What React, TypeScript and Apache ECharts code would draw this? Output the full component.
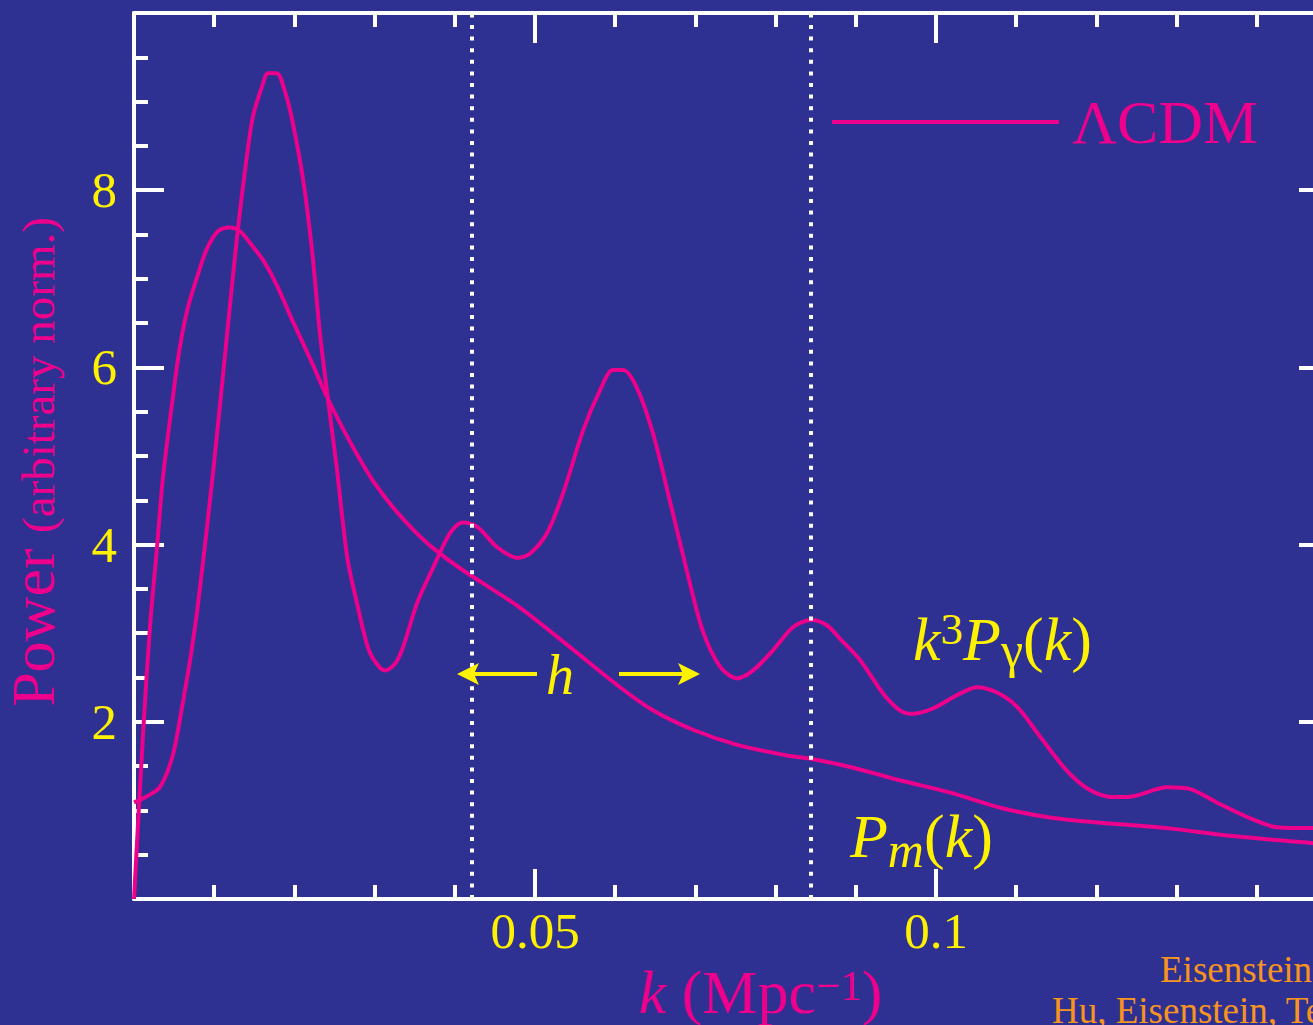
import React, { useEffect, useRef } from 'react';
import * as echarts from 'echarts';

const BG = '#2E3192';
const MAGENTA = '#EC008C';
const YELLOW = '#FFF200';
const ORANGE = '#F7941D';
const WHITE = '#FFFFFF';
const SERIF = '"Liberation Serif", "Times New Roman", serif';

// Tick labels
const xTickLabels = ['0.05', '0.1'];
const yTickLabels = ['2', '4', '6', '8'];

// Legend / series name
const legendName = 'ΛCDM';

// Matter power spectrum P_m(k)  [k (Mpc^-1), power]
const matterPower: [number, number][] = [
  [0, 0], [0.0011, 1.82], [0.002, 3.08], [0.0029, 4.0], [0.0036, 4.75], [0.0047, 5.56],
  [0.0057, 6.22], [0.0067, 6.67], [0.0079, 7.03], [0.0091, 7.34], [0.0105, 7.54], [0.012, 7.58],
  [0.0132, 7.54], [0.0145, 7.4], [0.0161, 7.21], [0.0178, 6.93], [0.0198, 6.52], [0.022, 6.09],
  [0.0241, 5.66], [0.0261, 5.3], [0.0278, 5.02], [0.0298, 4.72], [0.0323, 4.42], [0.0348, 4.17],
  [0.0373, 3.96], [0.0407, 3.73], [0.0481, 3.29], [0.0544, 2.84], [0.0606, 2.39],
  [0.0647, 2.13], [0.0697, 1.91], [0.0752, 1.74], [0.0814, 1.62], [0.0845, 1.58], [0.0893, 1.49],
  [0.0955, 1.34], [0.1018, 1.2], [0.108, 1.03], [0.1142, 0.92], [0.1205, 0.86], [0.1288, 0.8],
  [0.137, 0.71], [0.147, 0.63], [0.15, 0.6],
];

// Photon spectrum k^3 P_gamma(k)
const photonPower: [number, number][] = [
  [0, 1.09], [0.001, 1.13], [0.0024, 1.2], [0.0032, 1.26], [0.0041, 1.42], [0.005, 1.68],
  [0.006, 2.17], [0.007, 2.7], [0.008, 3.34], [0.0099, 4.85], [0.0116, 6.37], [0.0128, 7.43],
  [0.0138, 8.19], [0.0148, 8.82], [0.016, 9.18], [0.0167, 9.32], [0.0178, 9.32], [0.0188, 9.12],
  [0.0198, 8.76], [0.0211, 8.11], [0.0222, 7.32], [0.0232, 6.37], [0.0243, 5.56], [0.0253, 4.85],
  [0.0266, 3.85], [0.0278, 3.34], [0.0292, 2.83], [0.0303, 2.65], [0.0313, 2.58], [0.0325, 2.65],
  [0.0335, 2.83], [0.0353, 3.34], [0.0373, 3.74], [0.0394, 4.13], [0.041, 4.25], [0.0428, 4.2],
  [0.0453, 3.97], [0.0478, 3.85], [0.0494, 3.9], [0.0515, 4.13], [0.0535, 4.58], [0.056, 5.29],
  [0.0581, 5.74], [0.0597, 5.97], [0.061, 5.97], [0.0627, 5.77], [0.0647, 5.26], [0.0668, 4.5],
  [0.069, 3.68], [0.0709, 3.03], [0.0731, 2.62], [0.0752, 2.49], [0.0772, 2.58], [0.0797, 2.81],
  [0.0822, 3.07], [0.0845, 3.15], [0.0864, 3.09], [0.088, 2.94], [0.0905, 2.7], [0.0934, 2.32],
  [0.0955, 2.13], [0.0971, 2.09], [0.0996, 2.15], [0.1026, 2.3], [0.1051, 2.39], [0.1076, 2.33],
  [0.1101, 2.17], [0.113, 1.83], [0.1163, 1.45], [0.1192, 1.23], [0.1221, 1.15], [0.1246, 1.16],
  [0.1288, 1.26], [0.1317, 1.24], [0.135, 1.09], [0.1392, 0.91], [0.1425, 0.81], [0.147, 0.8],
  [0.15, 0.8],
];

// Sound-horizon markers (dotted verticals)
const horizonMarks = [0.0421, 0.0844];

const footnotes = ['Eisenstein, Hu & Tegmark (1998)', 'Hu, Eisenstein, Tegmark & White (1999)'];

function tok(size: number, color: string, extra: Record<string, any> = {}) {
  return { fontFamily: SERIF, fontSize: size, color, fill: color, lineHeight: extra.lineHeight ?? size, ...extra };
}

export default function App() {
  const ref = useRef<HTMLDivElement>(null);
  useEffect(() => {
    if (!ref.current) return;
    const chart = echarts.init(ref.current, undefined, { renderer: 'svg' });

    const annoRich = {
      i: tok(62, YELLOW, { fontStyle: 'italic' }),
      n: tok(62, YELLOW),
      sup: tok(45, YELLOW, { lineHeight: 62, padding: [0, 0, 20, 0] }),
      subg: tok(50, YELLOW, { lineHeight: 62, padding: [22, 0, 0, 0] }),
      subm: tok(50, YELLOW, { fontStyle: 'italic', lineHeight: 62, padding: [28, 0, 0, 0] }),
    };

    const axisCommonX = {
      type: 'value',
      min: 0,
      max: 0.15,
      interval: 0.05,
      axisLine: { show: true, onZero: false, lineStyle: { color: WHITE, width: 4 } },
      axisTick: { show: true, inside: true, length: 30, lineStyle: { color: WHITE, width: 4 } },
      minorTick: { show: true, splitNumber: 5, length: 14, lineStyle: { color: WHITE, width: 4 } },
      splitLine: { show: false },
      minorSplitLine: { show: false },
    };
    const axisCommonY = {
      type: 'value',
      min: 0,
      max: 10,
      interval: 2,
      axisLine: { show: true, onZero: false, lineStyle: { color: WHITE, width: 4 } },
      axisTick: { show: true, inside: true, length: 30, lineStyle: { color: WHITE, width: 4 } },
      minorTick: { show: true, splitNumber: 4, length: 14, lineStyle: { color: WHITE, width: 4 } },
      splitLine: { show: false },
      minorSplitLine: { show: false },
    };

    const option = {
      animation: false,
      backgroundColor: BG,
      grid: { left: 134, top: 13, width: 1203, height: 886, containLabel: false, outerBoundsMode: 'none' },
      legend: {
        left: 832,
        top: 91,
        padding: 0,
        icon: 'rect',
        itemWidth: 227,
        itemHeight: 4,
        selectedMode: false,
        data: [legendName],
        textStyle: { color: MAGENTA, fontSize: 62, fontFamily: SERIF, padding: [0, 0, 14, 8] },
      },
      xAxis: [
        {
          ...axisCommonX,
          position: 'bottom',
          axisLabel: {
            show: true,
            margin: 6,
            color: YELLOW,
            fontSize: 51,
            fontFamily: SERIF,
            formatter: (v: number) => {
              const s = String(Math.round(v * 100) / 100);
              return xTickLabels.includes(s) ? s : '';
            },
          },
          name: '{i|k}{n| (Mpc}{sup|−1}{n|)}',
          nameLocation: 'middle',
          nameGap: 59,
          nameTextStyle: {
            padding: [0, 0, 0, 50],
            rich: {
              i: tok(62, MAGENTA, { fontStyle: 'italic' }),
              n: tok(62, MAGENTA),
              sup: tok(43, MAGENTA, { lineHeight: 62, padding: [0, 0, 12, 0] }),
            },
          },
        },
        { ...axisCommonX, position: 'top', axisLabel: { show: false } },
      ],
      yAxis: [
        {
          ...axisCommonY,
          position: 'left',
          axisLabel: {
            show: true,
            margin: 17,
            color: YELLOW,
            fontSize: 51,
            fontFamily: SERIF,
            formatter: (v: number) => (yTickLabels.includes(String(v)) ? String(v) : ''),
          },
          name: '{a|Power }{b|(arbitrary norm.)}',
          nameLocation: 'middle',
          nameGap: 70,
          nameTextStyle: {
            padding: [0, 12, 0, 0],
            rich: {
              a: tok(62, MAGENTA),
              b: tok(47, MAGENTA, { lineHeight: 62, padding: [10, 0, 0, 0] }),
            },
          },
        },
        {
          ...axisCommonY,
          position: 'right',
          axisTick: { show: true, inside: true, length: 38, lineStyle: { color: WHITE, width: 4 } },
          axisLabel: { show: false },
        },
      ],
      series: [
        {
          name: legendName, type: 'line', data: photonPower, showSymbol: false, symbol: 'none', smooth: 0.3,
          lineStyle: { color: MAGENTA, width: 4 }, itemStyle: { color: MAGENTA }, z: 3,
        },
        {
          name: legendName, type: 'line', data: matterPower, showSymbol: false, symbol: 'none', smooth: 0.3,
          lineStyle: { color: MAGENTA, width: 4 }, itemStyle: { color: MAGENTA }, z: 3,
          markLine: {
            silent: true,
            precision: 5,
            symbol: ['none', 'none'],
            label: { show: false },
            lineStyle: { color: WHITE, width: 4, type: [4, 7.6], opacity: 1 },
            emphasis: { disabled: true },
            data: horizonMarks.map((k) => ({ xAxis: k })),
          },
        },
      ],
      graphic: [
        { type: 'text', x: 913, y: 639, z: 10,
          style: { text: '{i|k}{sup|3}{i|P}{subg|γ}{n|(}{i|k}{n|)}', rich: annoRich, align: 'left', verticalAlign: 'middle' } },
        { type: 'text', x: 850, y: 836, z: 10,
          style: { text: '{i|P}{subm|m}{n|(}{i|k}{n|)}', rich: annoRich, align: 'left', verticalAlign: 'middle' } },
        { type: 'text', x: 546, y: 675, z: 10,
          style: { text: 'h', fill: YELLOW, fontFamily: SERIF, fontStyle: 'italic', fontSize: 56, align: 'left', verticalAlign: 'middle' } },
        { type: 'line', z: 10, shape: { x1: 537, y1: 674, x2: 472, y2: 674 }, style: { stroke: YELLOW, lineWidth: 4 } },
        { type: 'polygon', z: 10, shape: { points: [[457, 674], [479, 663], [474, 674], [479, 685]] }, style: { fill: YELLOW } },
        { type: 'line', z: 10, shape: { x1: 619, y1: 674, x2: 685, y2: 674 }, style: { stroke: YELLOW, lineWidth: 4 } },
        { type: 'polygon', z: 10, shape: { points: [[700, 674], [678, 663], [683, 674], [678, 685]] }, style: { fill: YELLOW } },
        { type: 'text', x: 1160, y: 969,
          style: { text: footnotes[0], fill: ORANGE, fontFamily: SERIF, fontSize: 37, align: 'left', verticalAlign: 'middle' } },
        { type: 'text', x: 1052, y: 1010,
          style: { text: footnotes[1], fill: ORANGE, fontFamily: SERIF, fontSize: 37, align: 'left', verticalAlign: 'middle' } },
      ],
    };

    chart.setOption(option as any);
    return () => chart.dispose();
  }, []);

  return (
    <div style={{ position: 'fixed', left: 0, top: 0, width: 1313, height: 1025, overflow: 'hidden', background: BG }}>
      <div ref={ref} style={{ position: 'absolute', left: 0, top: 0, width: 1345, height: 1025 }} />
    </div>
  );
}
